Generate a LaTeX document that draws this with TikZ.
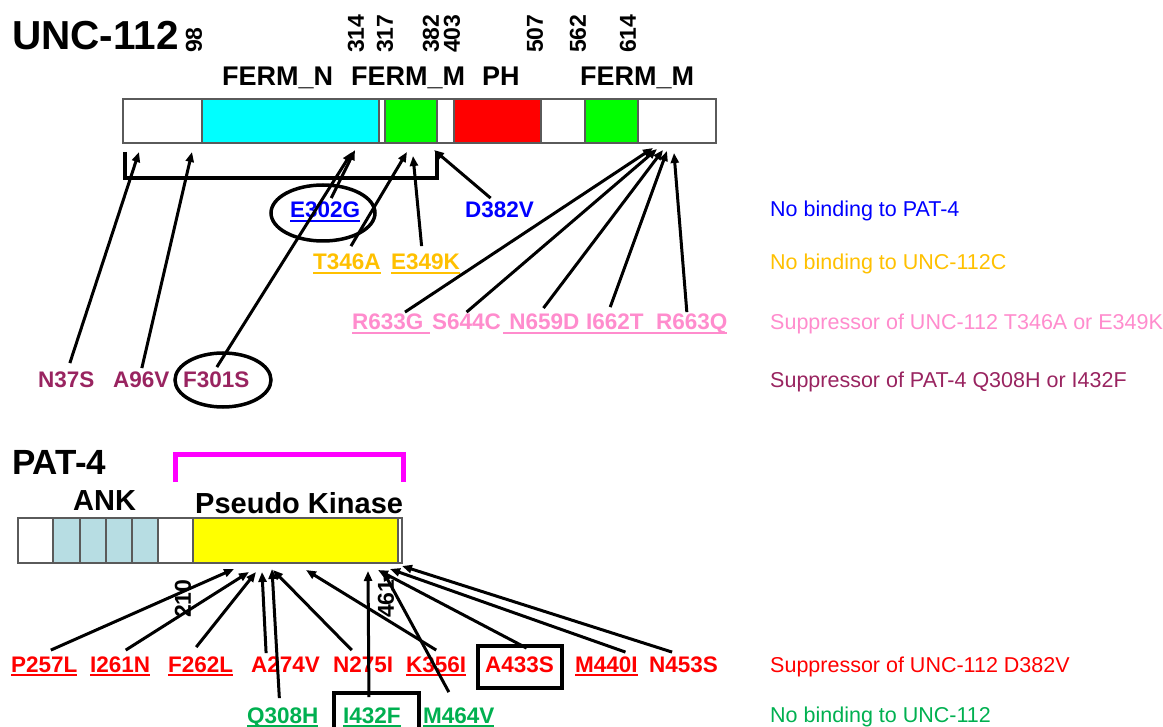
\documentclass[tikz,border=0pt]{standalone}
\usepackage{fontspec}
\setmainfont{Liberation Sans}
\usetikzlibrary{arrows.meta}
\definecolor{ankblue}{RGB}{183,221,227}
\definecolor{fermn}{RGB}{0,255,255}
\definecolor{fermm}{RGB}{0,255,0}
\definecolor{phred}{RGB}{255,0,0}
\definecolor{kinyellow}{RGB}{255,255,0}
\definecolor{kinmagenta}{RGB}{255,0,255}
\definecolor{mutblue}{RGB}{0,0,255}
\definecolor{mutorange}{RGB}{255,192,0}
\definecolor{mutpink}{RGB}{255,140,205}
\definecolor{mutmaroon}{RGB}{153,36,96}
\definecolor{mutred}{RGB}{255,0,0}
\definecolor{mutgreen}{RGB}{0,176,80}
\definecolor{barline}{RGB}{90,90,90}
\newcommand{\mutline}[1]{\leavevmode\setbox0\hbox{#1}\rlap{\vrule width\wd0 height -1.6pt depth 3.8pt}\box0}

\begin{document}
\begin{tikzpicture}[x=1pt,y=-1pt,
 lbl/.style={anchor=base west,inner sep=0,font=\fontsize{22.5}{24}\selectfont\bfseries},
 ttl/.style={anchor=base west,inner sep=0,font=\fontsize{#1}{#1}\selectfont\bfseries},
 num/.style={rotate=90,anchor=west,inner sep=0,font=\fontsize{23}{24}\selectfont\bfseries},
 leg/.style={anchor=base west,inner sep=0,font=\fontsize{21.5}{24}\selectfont},
 seg/.style={draw=barline,line width=1.3pt},
 mut/.style={-{Triangle[length=10pt,width=8pt]},line width=3pt},
 ring/.style={line width=3.5pt}]
\useasboundingbox (0,0) rectangle (1163,727);
\clip (0,0) rectangle (1163,727);

\node[ttl=40.5] (unc) at (12,50) {UNC-112};
\foreach \x/\v in {194/98,356/314,385/317,431/382,452/403,535/507,578/562,628/614}
  \node[num] (n\v) at (\x,53) {\v};
\node[ttl=27] (fermnl) at (222,86) {FERM\_N};
\node[ttl=27] (fermml) at (351,86) {FERM\_M};
\node[ttl=27] (phl) at (482,86) {PH};
\node[ttl=27] (fermmlb) at (580,86) {FERM\_M};
\foreach \a/\b/\c in {123/202/white,202/379/fermn,379/385/white,385/437/fermm,437/454/white,454/541/phred,541/585/white,585/638/fermm,638/716/white}
  \draw[seg,fill=\c] (\a,99) rectangle (\b,143);
\draw[line width=4.5pt] (125,152) -- (125,178) -- (437,178) -- (437,152);

\node[lbl,text=mutblue] (e302g) at (290,218) {\mutline{E302G}};
\node[lbl,text=mutblue] (d382v) at (465,218) {D382V};
\node[lbl,text=mutorange] (t346a) at (313,270) {\mutline{T346A}};
\node[lbl,text=mutorange] (e349k) at (391,270) {\mutline{E349K}};
\node[lbl,text=mutpink] (r633g) at (352,330) {\mutline{R633G\ }};
\node[lbl,text=mutpink] (s644c) at (432,330) {S644C};
\node[lbl,text=mutpink] (n659d) at (503,330) {\mutline{\ N659D\ }};
\node[lbl,text=mutpink] (i662t) at (586,330) {\mutline{I662T\ \ }};
\node[lbl,text=mutpink] (r663q) at (656,330) {\mutline{R663Q}};
\node[lbl,text=mutmaroon] (n37s) at (38,388) {N37S};
\node[lbl,text=mutmaroon] (a96v) at (113,388) {A96V};
\node[lbl,text=mutmaroon] (f301s) at (183,388) {F301S};
\draw[ring] (323,213) ellipse [x radius=52,y radius=28];
\draw[ring] (223,380) ellipse [x radius=48,y radius=27];

\node[leg,text=mutblue] (lgblue) at (770,217) {No binding to PAT-4};
\node[leg,text=mutorange] (lgorange) at (770,270) {No binding to UNC-112C};
\node[leg,text=mutpink] (lgpink) at (770,330) {Suppressor of UNC-112 T346A or E349K};
\node[leg,text=mutmaroon] (lgmaroon) at (770,388) {Suppressor of PAT-4 Q308H or I432F};
\node[leg,text=mutred] (lgred) at (770,672) {Suppressor of UNC-112 D382V};
\node[leg,text=mutgreen] (lggreen) at (770,722) {No binding to UNC-112};

\node[ttl=35] (pat) at (12,475) {PAT-4};
\draw[line width=5pt,kinmagenta] (175,482) -- (175,455) -- (403,455) -- (403,482);
\node[ttl=29] (ank) at (73,510) {ANK};
\node[ttl=29] (pk) at (195,513) {Pseudo Kinase};
\foreach \a/\b/\c in {18/53/white,53/80/ankblue,80/106/ankblue,106/132/ankblue,132/158/ankblue,158/193/white,193/398/kinyellow,398/402/white}
  \draw[seg,fill=\c] (\a,518) rectangle (\b,563);
\node[num] (n210) at (183,618) {210};
\node[num] (n461) at (386,618) {461};

\node[lbl,text=mutred] (p257l) at (11,672) {\mutline{P257L}};
\node[lbl,text=mutred] (i261n) at (90,672) {\mutline{I261N}};
\node[lbl,text=mutred] (f262l) at (168,672) {\mutline{F262L}};
\node[lbl,text=mutred] (a274v) at (251,672) {A274V};
\node[lbl,text=mutred] (n275i) at (333,672) {N275I};
\node[lbl,text=mutred] (k356i) at (406,672) {\mutline{K356I}};
\node[lbl,text=mutred] (a433s) at (485,672) {A433S};
\node[lbl,text=mutred] (m440i) at (575,672) {\mutline{M440I}};
\node[lbl,text=mutred] (n453s) at (649,672) {N453S};
\node[lbl,text=mutgreen] (q308h) at (247,723) {\mutline{Q308H}};
\node[lbl,text=mutgreen] (i432f) at (343,723) {\mutline{I432F}};
\node[lbl,text=mutgreen] (m464v) at (423,723) {\mutline{M464V}};
\draw[ring] (478,646) rectangle (562,688);
\draw[ring] (334,693) rectangle (419,740);

\coordinate (u37) at (139,152);
\coordinate (u96) at (192,152);
\coordinate (u301) at (352,152);
\coordinate (u302) at (355,150);
\coordinate (u346) at (407,152);
\coordinate (u349) at (413,156);
\coordinate (u382) at (434,150);
\coordinate (u633) at (653,148);
\coordinate (u644) at (657,149);
\coordinate (u659) at (663,150);
\coordinate (u662) at (667,151);
\coordinate (u663) at (674,153);
\draw[mut] ([shift={(3.5,-9)}]n37s.north) -- (u37);
\draw[mut] ([shift={(0.5,-4)}]a96v.north) -- (u96);
\draw[mut] ([shift={(0.5,-5)}]f301s.north) -- (u301);
\draw[mut] ([shift={(6,-4)}]e302g.north) -- (u302);
\draw[mut] ([shift={(4,-8)}]t346a.north) -- (u346);
\draw[mut] ([shift={(-4,-8)}]e349k.north) -- (u349);
\draw[mut] ([shift={(-9,-4)}]d382v.north) -- (u382);
\draw[mut] ([shift={(14,-2)}]r633g.north) -- (u633);
\draw[mut] ([shift={(0,-2)}]s644c.north) -- (u644);
\draw[mut] ([shift={(-1,-6)}]n659d.north) -- (u659);
\draw[mut] ([shift={(-11,-7)}]i662t.north) -- (u662);
\draw[mut] ([shift={(-5,-2)}]r663q.north) -- (u663);

\coordinate (p257) at (234,569);
\coordinate (p261) at (249,572);
\coordinate (p262) at (256,572);
\coordinate (p274) at (262,572);
\coordinate (p275) at (273,570);
\coordinate (p308) at (272,569);
\coordinate (p356) at (306,570);
\coordinate (p432) at (368,571);
\coordinate (p433) at (378,570);
\coordinate (p464) at (383,571);
\coordinate (p440) at (390,569);
\coordinate (p453) at (402,566);
\draw[mut] ([shift={(6.5,-6)}]p257l.north) -- (p257);
\draw[mut] ([shift={(5.5,-6)}]i261n.north) -- (p261);
\draw[mut] ([shift={(-4.5,-9)}]f262l.north) -- (p262);
\draw[mut] ([shift={(-19.5,-3)}]a274v.north) -- (p274);
\draw[mut] ([shift={(-11.5,-6)}]n275i.north) -- (p275);
\draw[mut] ([shift={(0,-6)}]k356i.north) -- (p356);
\draw[mut] ([shift={(7,-8)}]a433s.north) -- (p433);
\draw[mut] ([shift={(19,-4)}]m440i.north) -- (p440);
\draw[mut] ([shift={(-11.5,-4)}]n453s.north) -- (p453);
\draw[mut] ([shift={(-3.5,-9)}]q308h.north) -- (p308);
\draw[mut] ([shift={(-3,-10)}]i432f.north) -- (p432);
\draw[mut] ([shift={(-10,-15)}]m464v.north) -- (p464);
\end{tikzpicture}
\end{document}
